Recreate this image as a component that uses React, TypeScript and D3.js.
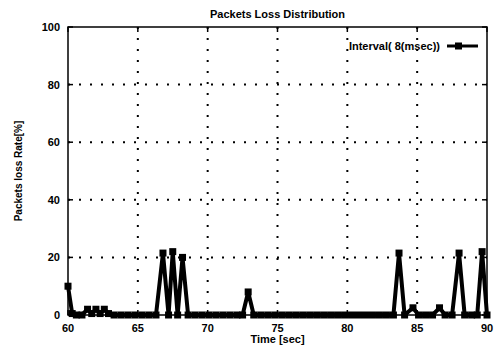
import React, { useEffect, useRef } from 'react';
import * as d3 from 'd3';

const times = [
  60, 60.3, 60.6, 61, 61.4, 61.7, 62, 62.3, 62.6, 62.9, 63.3, 63.8, 64.3, 64.8, 65.3, 65.8, 66.3,
  66.8, 67.2, 67.5, 67.85, 68.2, 68.6, 69.1, 69.6, 70.1, 70.6, 71.1, 71.6, 72.1, 72.5, 72.9, 73.3,
  73.8, 74.3, 74.8, 75.3, 75.8, 76.3, 76.8, 77.3, 77.8, 78.3, 78.8, 79.3, 79.8, 80.3, 80.8, 81.3,
  81.8, 82.3, 82.8, 83.3, 83.7, 84.1, 84.7, 85.1, 85.6, 86.1, 86.6, 87, 87.5, 88, 88.4, 88.9, 89.3,
  89.65, 90
];
const lossRates = [
  10, 0.5, 0, 0, 2, 0.5, 2, 0.5, 2, 0.5, 0, 0, 0, 0, 0, 0, 0,
  21.5, 0, 22, 0, 20, 0, 0, 0, 0, 0, 0, 0, 0, 0, 8, 0,
  0, 0, 0, 0, 0, 0, 0, 0, 0, 0, 0, 0, 0, 0, 0, 0,
  0, 0, 0, 0, 21.5, 0, 2.5, 0, 0, 0, 2.5, 0, 0, 21.5, 0, 0, 0,
  22, 0
];
const xTicks = [60, 65, 70, 75, 80, 85, 90];
const yTicks = [0, 20, 40, 60, 80, 100];
const seriesName = 'Interval( 8(msec))';

const App = () => {
  const svgRef = useRef<SVGSVGElement>(null);
  const width = 495;
  const height = 350;
  const margin = { left: 68, right: 8, top: 27, bottom: 35 };

  useEffect(() => {
    const svg = d3.select(svgRef.current);
    svg.selectAll('*').remove();
    const font = '"Liberation Sans", Arial, sans-serif';

    const xScale = d3.scaleLinear()
      .domain([60, 90])
      .range([margin.left, width - margin.right]);
    const yScale = d3.scaleLinear()
      .domain([0, 100])
      .range([height - margin.bottom, margin.top]);

    const x0 = xScale(60), x1 = xScale(90);
    const y0 = yScale(0), y1 = yScale(100);

    // dotted grid
    svg.append('g')
      .selectAll('line')
      .data(xTicks.slice(1, -1))
      .enter()
      .append('line')
      .attr('x1', d => xScale(d)).attr('x2', d => xScale(d))
      .attr('y1', y0).attr('y2', y1)
      .attr('stroke', '#000').attr('stroke-width', 2)
      .attr('stroke-dasharray', '2,9');
    svg.append('g')
      .selectAll('line')
      .data(yTicks.slice(1, -1))
      .enter()
      .append('line')
      .attr('x1', x0).attr('x2', x1)
      .attr('y1', d => yScale(d)).attr('y2', d => yScale(d))
      .attr('stroke', '#000').attr('stroke-width', 2)
      .attr('stroke-dasharray', '2,9');

    // inner ticks
    xTicks.forEach(t => {
      svg.append('line').attr('x1', xScale(t)).attr('x2', xScale(t))
        .attr('y1', y0).attr('y2', y0 - 5).attr('stroke', '#000').attr('stroke-width', 1.5);
      svg.append('line').attr('x1', xScale(t)).attr('x2', xScale(t))
        .attr('y1', y1).attr('y2', y1 + 5).attr('stroke', '#000').attr('stroke-width', 1.5);
    });
    yTicks.forEach(t => {
      svg.append('line').attr('x1', x0).attr('x2', x0 + 5)
        .attr('y1', yScale(t)).attr('y2', yScale(t)).attr('stroke', '#000').attr('stroke-width', 1.5);
      svg.append('line').attr('x1', x1).attr('x2', x1 - 5)
        .attr('y1', yScale(t)).attr('y2', yScale(t)).attr('stroke', '#000').attr('stroke-width', 1.5);
    });

    // frame
    svg.append('rect')
      .attr('x', x0).attr('y', y1)
      .attr('width', x1 - x0).attr('height', y0 - y1)
      .attr('fill', 'none').attr('stroke', '#000').attr('stroke-width', 1.5);

    // tick labels
    svg.append('g')
      .selectAll('text')
      .data(xTicks)
      .enter()
      .append('text')
      .attr('x', d => xScale(d))
      .attr('y', y0 + 17)
      .attr('text-anchor', 'middle')
      .attr('fill', '#000')
      .style('font', `bold 11px ${font}`)
      .text(d => d);
    svg.append('g')
      .selectAll('text')
      .data(yTicks)
      .enter()
      .append('text')
      .attr('x', x0 - 8)
      .attr('y', d => yScale(d) + 4)
      .attr('text-anchor', 'end')
      .attr('fill', '#000')
      .style('font', `bold 11px ${font}`)
      .text(d => d);

    // series
    const data = times.map((t, i) => ({ t, v: lossRates[i] }));
    const line = d3.line<{ t: number; v: number }>()
      .x(d => xScale(d.t))
      .y(d => yScale(d.v));
    svg.append('path')
      .datum(data)
      .attr('d', line)
      .attr('fill', 'none')
      .attr('stroke', '#000')
      .attr('stroke-width', 4)
      .attr('stroke-linejoin', 'round');
    svg.append('g')
      .selectAll('rect')
      .data(data)
      .enter()
      .append('rect')
      .attr('x', d => xScale(d.t) - 3.5)
      .attr('y', d => yScale(d.v) - 3.5)
      .attr('width', 7)
      .attr('height', 7)
      .attr('fill', '#000');

    // legend
    svg.append('text')
      .attr('x', 440)
      .attr('y', 50)
      .attr('text-anchor', 'end')
      .attr('fill', '#000')
      .style('font', `bold 11px ${font}`)
      .text(seriesName);
    svg.append('line')
      .attr('x1', 447).attr('x2', 478)
      .attr('y1', 46).attr('y2', 46)
      .attr('stroke', '#000').attr('stroke-width', 3);
    svg.append('rect')
      .attr('x', 455).attr('y', 42.5).attr('width', 7).attr('height', 7).attr('fill', '#000');

    // titles
    svg.append('text')
      .attr('x', (x0 + x1) / 2)
      .attr('y', 18)
      .attr('text-anchor', 'middle')
      .attr('fill', '#000')
      .style('font', `bold 11px ${font}`)
      .text('Packets Loss Distribution');
    svg.append('text')
      .attr('x', (x0 + x1) / 2)
      .attr('y', height - 7)
      .attr('text-anchor', 'middle')
      .attr('fill', '#000')
      .style('font', `bold 11px ${font}`)
      .text('Time [sec]');
    svg.append('text')
      .attr('transform', 'rotate(-90)')
      .attr('x', -(y0 + y1) / 2)
      .attr('y', 22)
      .attr('text-anchor', 'middle')
      .attr('fill', '#000')
      .style('font', `bold 10px ${font}`)
      .text('Packets loss Rate[%]');
  }, []);

  return (
    <svg ref={svgRef} width={width} height={height}
      style={{ position: 'absolute', left: 0, top: 0, background: '#fff' }}></svg>
  );
};

export default App;
